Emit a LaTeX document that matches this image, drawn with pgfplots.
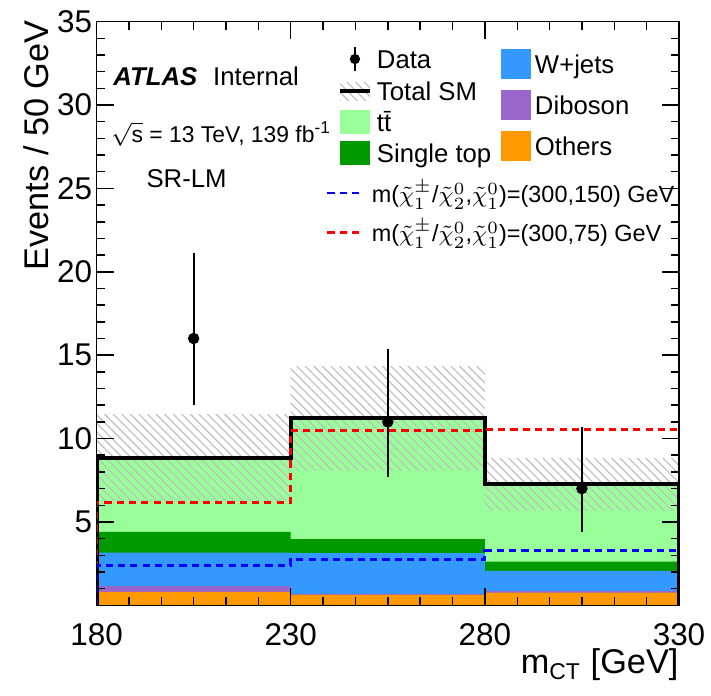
\documentclass[border=0pt]{standalone}
\usepackage{fontspec}
\setmainfont{Liberation Sans}
\usepackage{pgfplots}
\pgfplotsset{compat=1.18}
\usepackage{pgfplotstable}
\usetikzlibrary{patterns,calc}

\definecolor{ttcol}{RGB}{153,255,153}
\definecolor{stcol}{RGB}{0,153,0}
\definecolor{wjcol}{RGB}{51,153,255}
\definecolor{dibcol}{RGB}{153,102,204}
\definecolor{othcol}{RGB}{255,153,0}

% cumulative stack heights, last row repeats the last bin
\pgfplotstableread{
x    oth   dib   wj    st    tt
180  0.80  1.15  3.15  4.40  8.85
230  0.62  0.67  3.12  3.96  11.26
280  0.76  0.86  2.06  2.62  7.28
330  0.76  0.86  2.06  2.62  7.28
}\stack

\pgfplotsset{
  ovl/.style={width=203.8pt, height=204.2pt, scale only axis,
    xmin=180, xmax=330, ymin=0, ymax=35},
  legfont/.style={font=\fontsize{9}{10}\selectfont},
}

\begin{document}
\begin{tikzpicture}
\begin{axis}[ovl, name=ax, axis on top,
    tick align=inside,
    xtick={180,230,280,330}, xticklabels={180,230,280,330},
    minor x tick num=5,
    ytick={0,5,...,35}, yticklabels={,5,10,15,20,25,30,35},
    minor y tick num=4,
    major tick length=6pt, minor tick length=2.8pt,
    tick style={black, line width=0.5pt},
    axis line style={line width=0.5pt},
    tick label style={font=\fontsize{11}{13}\selectfont},
    xticklabel style={inner sep=0pt, yshift=-6.3pt},
    yticklabel style={inner sep=1.4pt},
    ylabel={Events / 50 GeV},
    ylabel style={font=\fontsize{12}{14}\selectfont, at={(axis description cs:-0.104,1.003)}, anchor=east, inner sep=0pt},
    xlabel={m\textsubscript{CT} [GeV]},
    xlabel style={font=\fontsize{12}{14}\selectfont, at={(axis description cs:1,-0.074)}, anchor=north east, inner sep=0pt},
    legend style={legfont, draw=none, fill=none, inner sep=0pt, outer sep=0pt,
      at={(rel axis cs:0.4144,0.9583)}, anchor=north west,
      row sep=2.45pt, column sep=1.75pt,
      nodes={inner sep=0pt, text height=7.4pt, text depth=1pt}},
    legend cell align=left,
  ]
  \addlegendimage{legend image code/.code={
      \draw[line width=0.7pt] (5.25pt,-4.2pt)--(5.25pt,4.2pt);
      \fill[draw=none] (5.25pt,0pt) circle (1.8pt);}}
  \addlegendentry{Data}
  \addlegendimage{legend image code/.code={
      \path[draw=none, pattern=north west lines, pattern color=gray!50] (0pt,-3.15pt) rectangle (10.5pt,3.15pt);
      \draw[line width=1.4pt] (0pt,0pt)--(10.5pt,0pt);}}
  \addlegendentry{Total SM}
  \addlegendimage{legend image code/.code={\path[draw=none, fill=ttcol] (0pt,-4.2pt) rectangle (10.5pt,4.2pt);}}
  \addlegendentry{t\={t}}
  \addlegendimage{legend image code/.code={\path[draw=none, fill=stcol] (0pt,-4.2pt) rectangle (10.5pt,4.2pt);}}
  \addlegendentry{Single top}

  % stacked backgrounds, drawn as cumulative areas
  \addplot[const plot mark left, fill=ttcol, draw=none, forget plot] table[x=x, y=tt]{\stack} \closedcycle;
  \addplot[const plot mark left, fill=stcol, draw=none, forget plot] table[x=x, y=st]{\stack} \closedcycle;
  \addplot[const plot mark left, fill=wjcol, draw=none, forget plot] table[x=x, y=wj]{\stack} \closedcycle;
  \addplot[const plot mark left, fill=dibcol, draw=none, forget plot] table[x=x, y=dib]{\stack} \closedcycle;
  \addplot[const plot mark left, fill=othcol, draw=none, forget plot] table[x=x, y=oth]{\stack} \closedcycle;

  % uncertainty band
  \addplot[draw=none, pattern=north west lines, pattern color=gray!50, forget plot]
    coordinates {(180,6.28)(230,6.28)(230,11.46)(180,11.46)} -- cycle;
  \addplot[draw=none, pattern=north west lines, pattern color=gray!50, forget plot]
    coordinates {(230,8.06)(280,8.06)(280,14.30)(230,14.30)} -- cycle;
  \addplot[draw=none, pattern=north west lines, pattern color=gray!50, forget plot]
    coordinates {(280,5.68)(330,5.68)(330,8.78)(280,8.78)} -- cycle;

  % total SM
  \addplot[const plot mark left, black, line width=1.4pt, line join=miter, forget plot]
    coordinates {(180,0)(180,8.85)(230,11.26)(280,7.28)(330,7.28)(330,0)};

  % signals
  \addplot[const plot mark left, red, line width=1pt, dash pattern=on 2.5pt off 1.8pt, forget plot]
    coordinates {(180,0)(180,6.16)(230,10.46)(280,10.56)(330,10.56)(330,0)};
  \addplot[const plot mark left, blue, line width=1pt, dash pattern=on 2.5pt off 1.8pt, forget plot]
    coordinates {(180,0)(180,2.40)(230,2.76)(280,3.26)(330,3.26)(330,0)};

  % data
  \addplot[only marks, mark=*, mark size=1.8pt, black, forget plot,
    error bars/.cd, y dir=both, y explicit, error mark=none,
    error bar style={line width=0.7pt, black}]
    coordinates {
      (205,16) += (0,5.1) -= (0,4.0)
      (255,11) += (0,4.4) -= (0,3.3)
      (305,7)  += (0,3.7) -= (0,2.6)
    };

  \node[anchor=base west, inner sep=0pt, font=\fontsize{9}{10}\selectfont]
    at (rel axis cs:0.028,0.8915) {\textbf{\textit{ATLAS}}};
  \node[anchor=base west, inner sep=0pt, font=\fontsize{9}{10}\selectfont]
    at (rel axis cs:0.1992,0.8915) {Internal};
  \node[anchor=base west, inner sep=0pt, font=\fontsize{8}{9}\selectfont]
    at (rel axis cs:0.0246,0.7938) {$\sqrt{\mbox{s}}$ = 13 TeV, 139 fb\textsuperscript{-1}};
  \node[anchor=base west, inner sep=0pt, font=\fontsize{9}{10}\selectfont]
    at (rel axis cs:0.0848,0.716) {SR-LM};
\end{axis}

% right legend column
\begin{axis}[ovl, hide axis,
    legend style={legfont, draw=none, fill=none, inner sep=0pt, outer sep=0pt,
      at={(rel axis cs:0.6943,0.9532)}, anchor=north west,
      row sep=3.85pt, column sep=1.4pt,
      nodes={inner sep=0pt, text height=8.45pt, text depth=2.05pt}},
    legend cell align=left]
  \addlegendimage{legend image code/.code={\path[draw=none, fill=wjcol] (0pt,-5.25pt) rectangle (10.5pt,5.25pt);}}
  \addlegendentry{W+jets}
  \addlegendimage{legend image code/.code={\path[draw=none, fill=dibcol] (0pt,-5.25pt) rectangle (10.5pt,5.25pt);}}
  \addlegendentry{Diboson}
  \addlegendimage{legend image code/.code={\path[draw=none, fill=othcol] (0pt,-5.25pt) rectangle (10.5pt,5.25pt);}}
  \addlegendentry{Others}
\end{axis}

% signal legend
\begin{axis}[ovl, hide axis,
    legend style={font=\fontsize{8.2}{9}\selectfont, draw=none, fill=none, inner sep=0pt, outer sep=0pt,
      at={(rel axis cs:0.3938,0.7377)}, anchor=north west,
      row sep=0.85pt, column sep=2.8pt,
      nodes={inner sep=0pt, text height=9.6pt, text depth=3.2pt}},
    legend cell align=left]
  \addlegendimage{legend image code/.code={\draw[blue, line width=1pt, dash pattern=on 2.5pt off 1.8pt] (0pt,0pt)--(12.25pt,0pt);}}
  \addlegendentry{m($\tilde{\chi}^{\pm}_{1}$/$\tilde{\chi}^{0}_{2}$,$\tilde{\chi}^{0}_{1}$)=(300,150) GeV}
  \addlegendimage{legend image code/.code={\draw[red, line width=1pt, dash pattern=on 2.5pt off 1.8pt] (0pt,0pt)--(12.25pt,0pt);}}
  \addlegendentry{m($\tilde{\chi}^{\pm}_{1}$/$\tilde{\chi}^{0}_{2}$,$\tilde{\chi}^{0}_{1}$)=(300,75) GeV}
\end{axis}

\pgfresetboundingbox
\useasboundingbox ($(ax.south west)+(-33.8pt,-31.5pt)$) rectangle ($(ax.north east)+(11.2pt,7.6pt)$);
\end{tikzpicture}
\end{document}
